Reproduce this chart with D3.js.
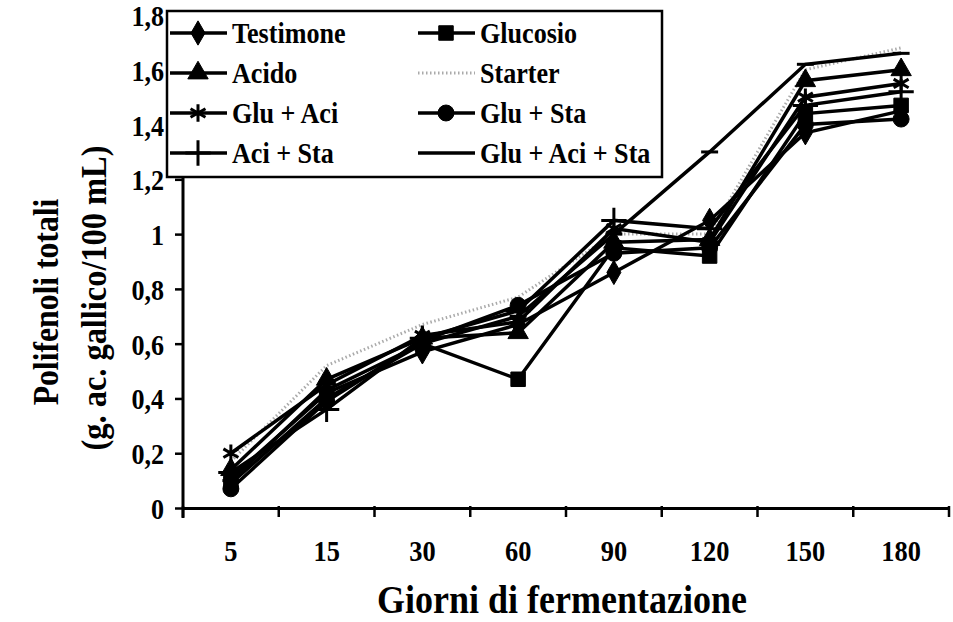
<!DOCTYPE html>
<html>
<head>
<meta charset="utf-8">
<script src="https://cdn.jsdelivr.net/npm/d3@7"></script>
<style>
  body { margin: 0; background: #fff; }
  text { font-family: "Liberation Serif", "Times New Roman", serif; font-weight: bold; fill: #000; }
</style>
</head>
<body>
<svg id="chart" width="953" height="622"></svg>
<script>
// days of fermentation (categories)
const days = ["5", "15", "30", "60", "90", "120", "150", "180"];
const yTicks = [0, 0.2, 0.4, 0.6, 0.8, 1, 1.2, 1.4, 1.6, 1.8];

// total polyphenols, g gallic acid / 100 mL
const testimone = [0.11, 0.42, 0.57, 0.67, 0.86, 1.05, 1.37, 1.45];
const glucosio  = [0.09, 0.40, 0.60, 0.47, 0.95, 0.92, 1.44, 1.47];
const acido     = [0.14, 0.47, 0.62, 0.64, 0.97, 0.98, 1.56, 1.60];
const starter   = [0.17, 0.52, 0.67, 0.77, 1.00, 1.00, 1.60, 1.68];
const gluAci    = [0.20, 0.45, 0.63, 0.68, 1.02, 0.97, 1.50, 1.55];
const gluSta    = [0.07, 0.39, 0.61, 0.74, 0.93, 0.95, 1.40, 1.42];
const aciSta    = [0.13, 0.36, 0.62, 0.72, 1.05, 1.02, 1.47, 1.52];
const gluAciSta = [0.10, 0.43, 0.60, 0.70, 1.00, 1.30, 1.62, 1.66];

// dash marker (excel style "-")
const symbolDash = {
    draw(context, size) {
        const w = Math.sqrt(size) * 0.6;
        context.moveTo(-w, 0);
        context.lineTo(w, 0);
    }
};

const series = [
    {name: "Starter", values: starter, symbol: null, dotted: true},
    {name: "Testimone", values: testimone, symbol: d3.symbolDiamond, size: 170, fill: true},
    {name: "Glucosio", values: glucosio, symbol: d3.symbolSquare, size: 210, fill: true},
    {name: "Acido", values: acido, symbol: d3.symbolTriangle, size: 180, fill: true},
    {name: "Glu + Aci", values: gluAci, symbol: d3.symbolAsterisk, size: 210, fill: false},
    {name: "Glu + Sta", values: gluSta, symbol: d3.symbolCircle, size: 200, fill: true},
    {name: "Aci + Sta", values: aciSta, symbol: d3.symbolPlus, size: 210, fill: false},
    {name: "Glu + Aci + Sta", values: gluAciSta, symbol: symbolDash, size: 200, fill: false}
];

// legend layout order (two columns)
const legendOrder = ["Testimone", "Glucosio", "Acido", "Starter", "Glu + Aci", "Glu + Sta", "Aci + Sta", "Glu + Aci + Sta"];

const svg = d3.select("#chart");

const x = d3.scaleBand().domain(days).range([183, 949]);
const y = d3.scaleLinear().domain([0, 1.8]).range([508, 15]);

// condensed bold serif text, like the scanned original
function label(g, tx, ty, size, sx, str, anchor, rot) {
    return g.append("text")
        .attr("transform", `translate(${tx},${ty})` + (rot ? ` rotate(${rot})` : "") + ` scale(${sx},1)`)
        .attr("text-anchor", anchor || "middle")
        .style("font-size", size + "px")
        .text(str);
}

// x axis
svg.append("g")
    .attr("transform", "translate(0,508)")
    .call(d3.axisBottom(x).tickSize(0).tickFormat(""))
    .call(g => g.select(".domain").attr("stroke", "#000").attr("stroke-width", 3));

svg.append("g")
    .selectAll("line")
    .data([183].concat(days.map(d => x(d) + x.bandwidth())))
    .enter()
    .append("line")
    .attr("x1", d => d).attr("x2", d => d)
    .attr("y1", 506).attr("y2", 517)
    .attr("stroke", "#000").attr("stroke-width", 2.5);

const xl = svg.append("g");
days.forEach(d => label(xl, x(d) + x.bandwidth() / 2, 561, 30, 0.88, d));

// y axis
svg.append("g")
    .attr("transform", "translate(183,0)")
    .call(d3.axisLeft(y).tickValues(yTicks).tickSize(8).tickFormat(""))
    .call(g => g.select(".domain").attr("stroke", "#000").attr("stroke-width", 3).attr("d", "M0,518V15"))
    .call(g => g.selectAll(".tick line").attr("stroke", "#000").attr("stroke-width", 2.5));

const yl = svg.append("g");
yTicks.forEach(t => label(yl, 164, y(t) + 11, 29, 0.9, String(t).replace(".", ","), "end"));

// axis titles
label(svg, 562, 613, 40, 0.9, "Giorni di fermentazione");
label(svg, 58, 302, 36, 0.88, "Polifenoli totali", "middle", -90);
label(svg, 106, 298, 36, 0.9, "(g. ac. gallico/100 mL)", "middle", -90);

// lines
const line = d3.line()
    .x((d, i) => x(days[i]) + x.bandwidth() / 2)
    .y(d => y(d));

const plot = svg.append("g");

series.forEach(s => {
    plot.append("path")
        .datum(s.values)
        .attr("fill", "none")
        .attr("stroke", s.dotted ? "#aaa" : "#000")
        .attr("stroke-width", s.dotted ? 3 : 3.5)
        .attr("stroke-dasharray", s.dotted ? "1.5,2.5" : null)
        .attr("d", line);
});

series.filter(s => s.symbol).forEach(s => {
    plot.selectAll(null)
        .data(s.values)
        .enter()
        .append("path")
        .attr("transform", (d, i) => `translate(${x(days[i]) + x.bandwidth() / 2},${y(d)})`)
        .attr("d", d3.symbol(s.symbol, s.size))
        .attr("fill", s.fill ? "#000" : "none")
        .attr("stroke", "#000")
        .attr("stroke-width", s.fill ? 1 : 3);
});

// legend
const legend = svg.append("g");
legend.append("rect")
    .attr("x", 167).attr("y", 11)
    .attr("width", 495).attr("height", 166)
    .attr("fill", "#fff")
    .attr("stroke", "#000")
    .attr("stroke-width", 2.5);

const items = legend.selectAll("g")
    .data(legendOrder.map(n => series.find(s => s.name === n)))
    .enter()
    .append("g")
    .attr("transform", (d, i) => `translate(${i % 2 === 0 ? 170 : 418},${33 + Math.floor(i / 2) * 40})`);

items.append("line")
    .attr("x1", 0).attr("x2", 57)
    .attr("stroke", d => d.dotted ? "#aaa" : "#000")
    .attr("stroke-width", d => d.dotted ? 3 : 3.5)
    .attr("stroke-dasharray", d => d.dotted ? "1.5,2.5" : null);

items.filter(d => d.symbol && d.symbol !== symbolDash)
    .append("path")
    .attr("transform", "translate(28,0)")
    .attr("d", d => d3.symbol(d.symbol, d.size)())
    .attr("fill", d => d.fill ? "#000" : "none")
    .attr("stroke", "#000")
    .attr("stroke-width", d => d.fill ? 1 : 3);

items.each(function(d) {
    label(d3.select(this), 62, 10, 30, 0.87, d.name, "start");
});
</script>
</body>
</html>
